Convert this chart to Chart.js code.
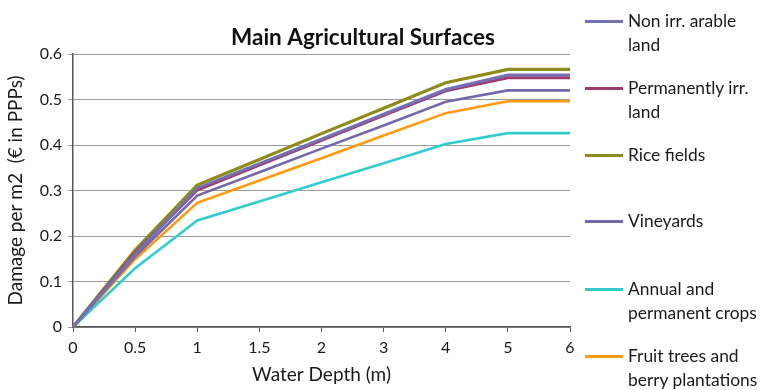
<!DOCTYPE html>
<html lang="en">
<head>
<meta charset="UTF-8">
<title>Main Agricultural Surfaces</title>
<script src="https://cdn.jsdelivr.net/npm/chart.js"></script>
<style>
    body {
        margin: 0;
        background: #fff;
        font-family: Lato, "Open Sans", sans-serif;
    }
    .wrap {
        position: relative;
        width: 770px;
        height: 390px;
    }
    #chart {
        position: absolute;
        left: 0;
        top: 0;
    }
    .legend {
        position: absolute;
        left: 585px;
        top: 0;
        width: 185px;
    }
    .legend .item {
        position: absolute;
        left: 0;
        display: flex;
        align-items: flex-start;
    }
    .legend .swatch {
        width: 38px;
        height: 3px;
        margin-top: 11px;
        margin-right: 5px;
        flex: none;
    }
    .legend .txt {
        font-size: 17.4px;
        line-height: 24px;
        color: #1a1a1a;
        white-space: nowrap;
    }
</style>
</head>
<body>
<div class="wrap">
    <canvas id="chart" width="726" height="390"></canvas>
    <div class="legend" id="legend"></div>
</div>
<script>
const depths = ["0", "0.5", "1", "1.5", "2", "3", "4", "5", "6"];
const yTicks = [0, 0.1, 0.2, 0.3, 0.4, 0.5, 0.6];

const nonIrrArable   = [0, 0.160, 0.305, 0.359, 0.413, 0.468, 0.522, 0.554, 0.554];
const permIrr        = [0, 0.163, 0.301, 0.356, 0.410, 0.465, 0.519, 0.548, 0.548];
const riceFields     = [0, 0.169, 0.312, 0.368, 0.425, 0.481, 0.537, 0.566, 0.566];
const vineyards      = [0, 0.155, 0.289, 0.340, 0.392, 0.443, 0.495, 0.520, 0.520];
const annualCrops    = [0, 0.129, 0.234, 0.276, 0.318, 0.360, 0.402, 0.426, 0.426];
const fruitTrees     = [0, 0.149, 0.273, 0.322, 0.371, 0.421, 0.470, 0.496, 0.496];

const seriesNames = [
    ["Non irr. arable", "land"],
    ["Permanently irr.", "land"],
    ["Rice fields"],
    ["Vineyards"],
    ["Annual and", "permanent crops"],
    ["Fruit trees and", "berry plantations"]
];
const seriesData = [nonIrrArable, permIrr, riceFields, vineyards, annualCrops, fruitTrees];
const colors = ["#7371B3", "#9E3A6C", "#8C8C1A", "#7468AA", "#33CCCC", "#FF9A10"];
const widths = [3, 3, 3.2, 2.6, 2.6, 2.6];
const legendTops = [9, 76, 143, 209, 277, 344];

const titleText = "Main Agricultural Surfaces";

// title drawn centred a bit right of the plot, like the original
const titlePlugin = {
    id: "titlePlugin",
    afterDraw(chart) {
        const ctx = chart.ctx;
        ctx.save();
        ctx.font = "bold 22.5px Lato, sans-serif";
        ctx.fillStyle = "#111";
        ctx.textAlign = "center";
        ctx.textBaseline = "middle";
        ctx.fillText(titleText, 363, 38);
        ctx.restore();
    }
};

const datasets = seriesData.map((d, i) => ({
    label: seriesNames[i].join(" "),
    data: d,
    borderColor: colors[i],
    backgroundColor: colors[i],
    borderWidth: widths[i],
    pointRadius: 0,
    tension: 0,
    fill: false
}));

new Chart(document.getElementById("chart"), {
    type: "line",
    data: { labels: depths, datasets: datasets },
    plugins: [titlePlugin],
    options: {
        responsive: false,
        animation: false,
        layout: { padding: { top: 54, right: 156, left: 0, bottom: 0 } },
        plugins: {
            legend: { display: false },
            title: { display: false },
            tooltip: { enabled: false }
        },
        scales: {
            x: {
                type: "category",
                offset: false,
                grid: {
                    drawOnChartArea: false,
                    drawTicks: true,
                    tickLength: 5,
                    color: "#555"
                },
                border: { color: "#555", width: 1.5 },
                ticks: {
                    color: "#1a1a1a",
                    font: { size: 16, family: "Lato" },
                    maxRotation: 0,
                    autoSkip: false,
                    padding: 6
                },
                title: {
                    display: true,
                    text: "Water Depth (m)",
                    color: "#1a1a1a",
                    font: { size: 19, family: "Lato" },
                    padding: { top: 0 }
                },
                afterFit(scale) { scale.height = 63; }
            },
            y: {
                min: 0,
                max: 0.6,
                afterBuildTicks(scale) { scale.ticks = yTicks.map(v => ({ value: v })); },
                grid: {
                    color: "#9a9a9a",
                    lineWidth: 1,
                    tickLength: 5
                },
                border: { color: "#555", width: 1.5 },
                ticks: {
                    color: "#1a1a1a",
                    font: { size: 16, family: "Lato" },
                    padding: 6,
                    callback: v => String(Math.round(v * 10) / 10)
                },
                title: {
                    display: true,
                    text: "Damage per m2  (\u20AC in PPPs)",
                    color: "#1a1a1a",
                    font: { size: 19, family: "Lato" },
                    padding: { bottom: 2 }
                },
                afterFit(scale) { scale.width = 73; }
            }
        }
    }
});

// html legend on the right
const legend = document.getElementById("legend");
seriesNames.forEach((lines, i) => {
    const item = document.createElement("div");
    item.className = "item";
    item.style.top = legendTops[i] + "px";
    const sw = document.createElement("div");
    sw.className = "swatch";
    sw.style.background = colors[i];
    const txt = document.createElement("div");
    txt.className = "txt";
    txt.innerHTML = lines.join("<br>");
    item.appendChild(sw);
    item.appendChild(txt);
    legend.appendChild(item);
});
</script>
</body>
</html>
